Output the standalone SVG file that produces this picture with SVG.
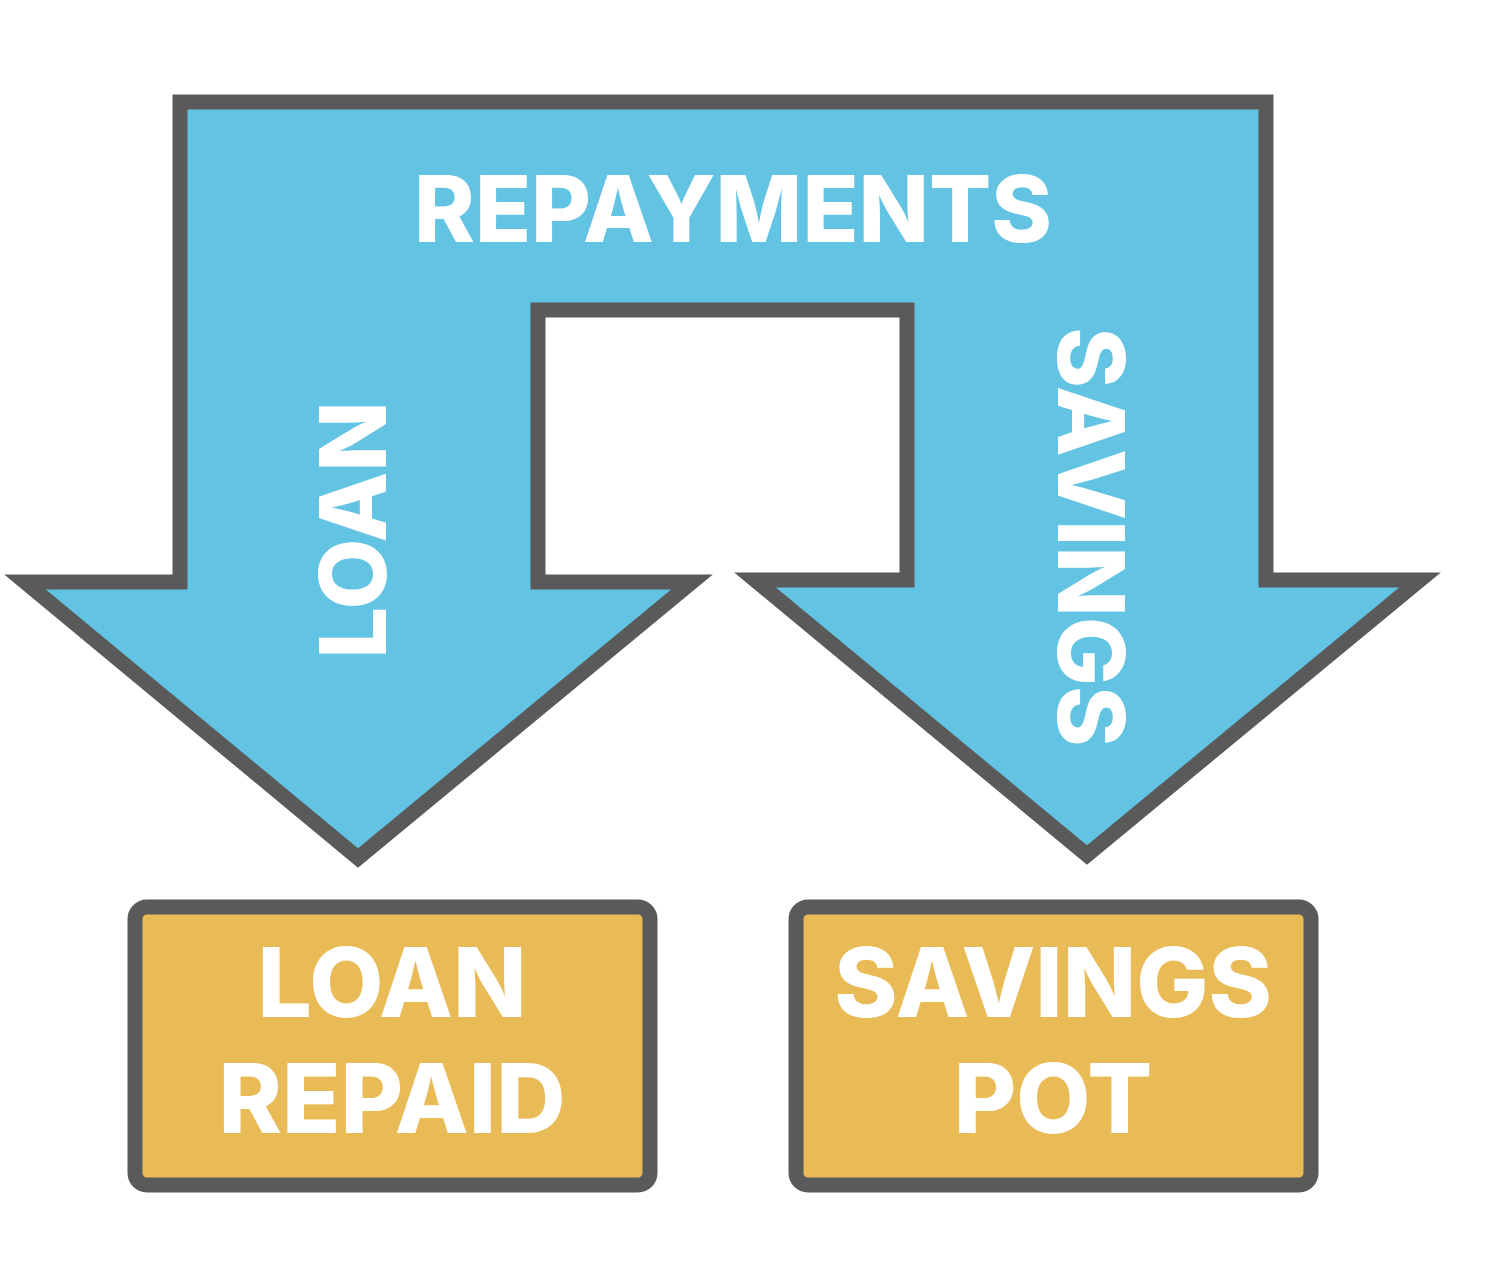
<svg xmlns="http://www.w3.org/2000/svg" width="1500" height="1264" viewBox="0 0 1500 1264">
<style>
.t{font-family:Inter,"Open Sans","Liberation Sans",sans-serif;font-weight:800;fill:#fff;text-anchor:middle}
.box{fill:#e9bb57;stroke:#5a5a5a;stroke-width:15}
</style>
<rect width="1500" height="1264" fill="#fff"/>
<g id="connectors">
<polygon points="180,102 1266,102 1266,580 1420,580 1087,855 755,580 907,580 907,310 538,310 538,582 692,582 358,858 25,582 180,582" fill="#62c3e2" stroke="#5a5a5a" stroke-width="15"/>
<text class="t" x="733" y="242" font-size="92">REPAYMENTS</text>
<text class="t" font-size="92" transform="translate(386,530) rotate(-90)">LOAN</text>
<text class="t" font-size="92" transform="translate(1058,537) rotate(90)">SAVINGS</text>
</g>
<g id="loan-repaid">
<rect class="box" x="135" y="907" width="515" height="278" rx="12"/>
<text class="t" x="392" y="1017" font-size="96">LOAN</text>
<text class="t" x="392" y="1133" font-size="96">REPAID</text>
</g>
<g id="savings-pot">
<rect class="box" x="796" y="907" width="515" height="278" rx="12"/>
<text class="t" x="1053" y="1017" font-size="96">SAVINGS</text>
<text class="t" x="1053" y="1133" font-size="96">POT</text>
</g>
</svg>
